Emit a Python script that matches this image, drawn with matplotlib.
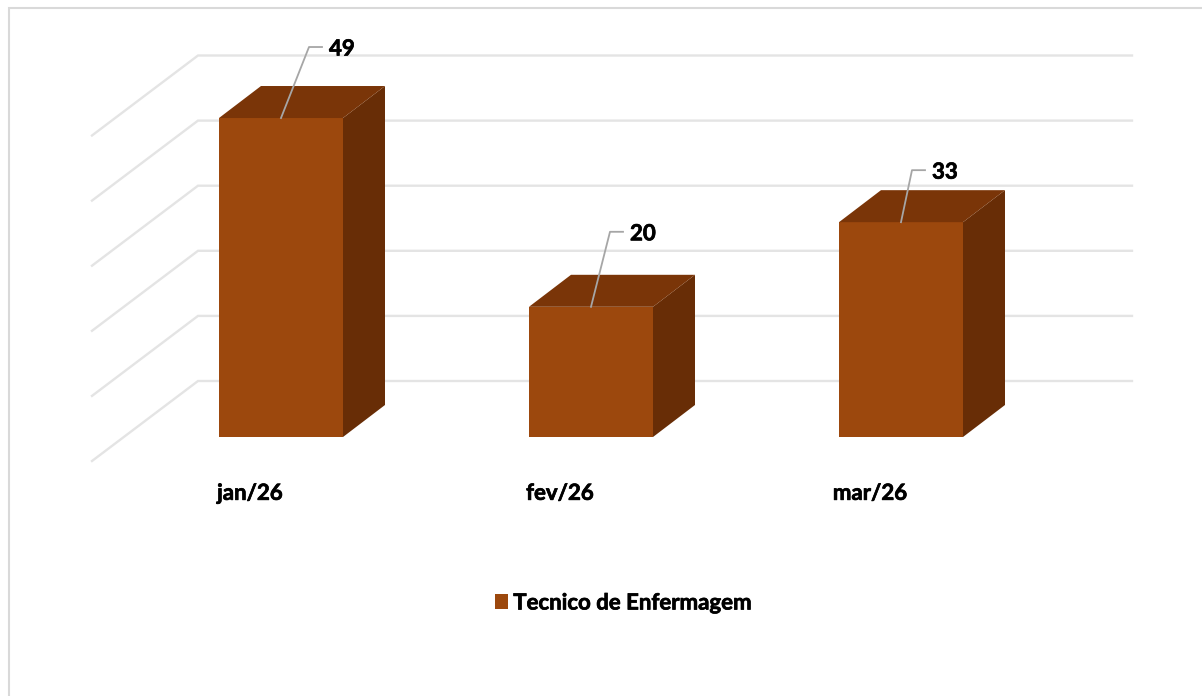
import numpy as np
import matplotlib
matplotlib.use('Agg')
import matplotlib.pyplot as plt
import matplotlib.patheffects as pe
from matplotlib.patches import Polygon, Rectangle

plt.rcParams['font.family'] = ['Lato', 'DejaVu Sans']

months = ['jan/26', 'fev/26', 'mar/26']
values = [49, 20, 33]
series_name = 'Tecnico de Enfermagem'
grid_values = [0, 10, 20, 30, 40, 50]

front_color = '#9c480d'
top_color = '#7a3508'
side_color = '#682d06'
grid_color = '#e4e4e4'
leader_color = '#a6a6a6'

W, H = 1202, 696
px_x = 310.0      # pixels per category
px_y = 6.51       # pixels per unit
left, right, base, top = 92, 1132, 437, 40
x_center0 = 281
font_size = 16
# the reference text is a bit heavier than Lato Bold
heavier = [pe.withStroke(linewidth=0.5, foreground='black')]

# 3d look, in data units
depth_x = 42 / px_x
depth_y = 32 / px_y
wall_y = 56 / px_y     # back wall zero sits above the bar base
side_x = 106 / px_x
side_y = 80 / px_y
width = 124 / px_x

# leader line knee for each label, pixels from the top of the bar
leaders = [(28, 71), (19, 75), (11, 52)]

fig = plt.figure(figsize=(W / 100, H / 100), dpi=100)
ax = fig.add_axes([left / W, 1 - base / H, (right - left) / W, (base - top) / H])
ax.set_xlim((left - x_center0) / px_x, (right - x_center0) / px_x)
ax.set_ylim(0, (base - top) / px_y)
for s in ax.spines.values():
    s.set_visible(False)
ax.patch.set_alpha(0)

# outer frame, runs off the right and bottom of the image
fig.add_artist(Rectangle((9 / W, -0.05), 1.1, 1 - 8 / H + 0.05, transform=fig.transFigure,
                         fill=False, edgecolor='#d9d9d9', linewidth=1.5))

x_back = (198 - x_center0) / px_x
x_end = (right - x_center0) / px_x
for v in grid_values:
    y = v + wall_y
    ax.plot([x_back - side_x, x_back, x_end], [y - side_y, y, y], color=grid_color,
            linewidth=1.7, clip_on=False, zorder=1, solid_joinstyle='miter')

x = np.arange(len(months))
ax.bar(x, values, width=width, color=front_color, label=series_name, zorder=3)

for i, v in enumerate(values):
    l = i - width / 2
    r = i + width / 2
    ax.add_patch(Polygon([(r, 0), (r + depth_x, depth_y), (r + depth_x, v + depth_y), (r, v)],
                         facecolor=side_color, edgecolor='none', zorder=3))
    ax.add_patch(Polygon([(l, v), (l + depth_x, v + depth_y), (r + depth_x, v + depth_y), (r, v)],
                         facecolor=top_color, edgecolor='none', zorder=3, clip_on=False))

    kx, ky = leaders[i]
    knee_x = i + kx / px_x
    knee_y = v + ky / px_y
    ax.plot([i, knee_x, knee_x + 13 / px_x], [v, knee_y, knee_y], color=leader_color,
            linewidth=1.3, clip_on=False, zorder=4)
    ax.text(knee_x + 20 / px_x, knee_y - 2 / px_y, str(v), fontsize=font_size, fontweight='bold',
            color='black', ha='left', va='center', zorder=5, clip_on=False, path_effects=heavier)

ax.set_yticks([])
ax.set_xticks(x - 31 / px_x)
ax.set_xticklabels(months, fontsize=font_size, fontweight='bold', color='black', path_effects=heavier)
ax.tick_params(axis='x', length=0, pad=33)

leg = ax.legend(loc='center', bbox_to_anchor=((624 - left) / (right - left), (base - 603) / (base - top)),
                frameon=False, handlelength=0.56, handleheight=0.64, handletextpad=0.25,
                prop={'size': font_size, 'weight': 'bold'})
for t in leg.get_texts():
    t.set_path_effects(heavier)

fig.savefig('out.png', dpi=100)
